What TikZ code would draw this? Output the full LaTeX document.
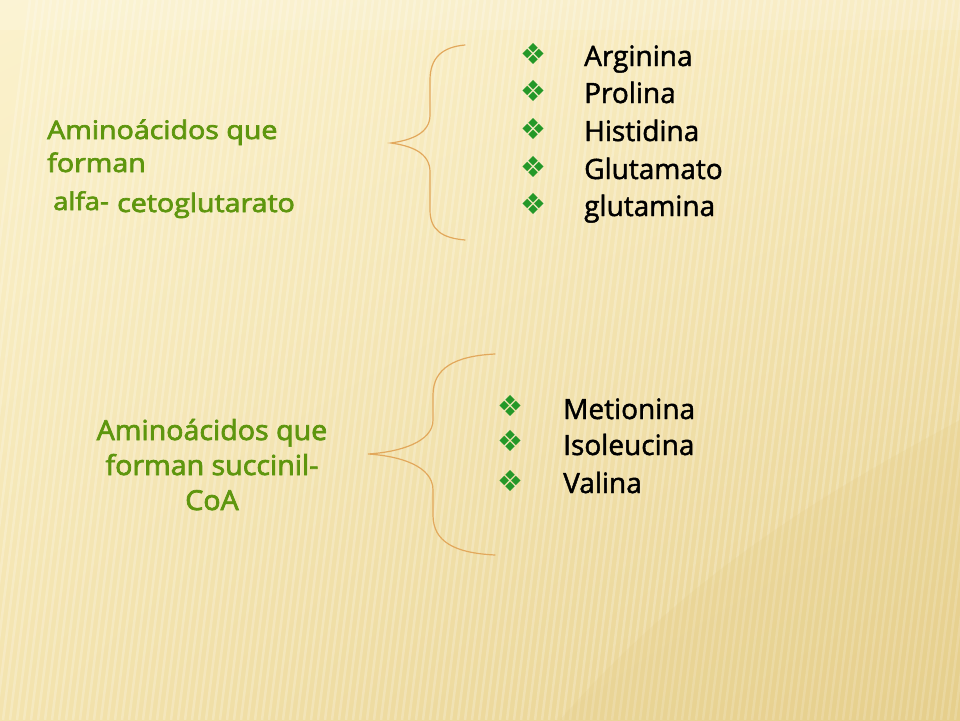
\documentclass[tikz,border=0pt]{standalone}
\usepackage{fontspec}
\usetikzlibrary{shadings}
\setmainfont{Open Sans}
\newfontfamily\medfont{Open Sans}[FakeBold=1.6]
\newfontfamily\grnfont{Open Sans}[FakeBold=2.6]
\newfontfamily\symfont{DejaVu Sans}
\definecolor{bgA}{RGB}{251,242,205}
\definecolor{bgB}{RGB}{247,233,186}
\definecolor{bgC}{RGB}{243,227,174}
\definecolor{bgD}{RGB}{230,207,140}
\definecolor{titlegreen}{RGB}{94,150,14}
\definecolor{bulletgreen}{RGB}{36,152,40}
\definecolor{bracecol}{RGB}{226,168,92}
\tikzset{
  item/.style={anchor=base west, inner sep=0pt, font=\medfont\fontsize{28}{30}\selectfont, text=black},
  bul/.style={inner sep=0pt, font=\symfont\fontsize{29}{29}\selectfont, text=bulletgreen},
  grnA/.style={anchor=base west, inner sep=0pt, font=\grnfont\fontsize{25.5}{28}\selectfont, text=titlegreen, xscale=1.12},
  grnB/.style={anchor=base, inner sep=0pt, font=\grnfont\fontsize{27.5}{30}\selectfont, text=titlegreen, xscale=1.04},
  brace/.style={draw=bracecol, line width=1.2pt, line cap=round}
}
\begin{document}
\begin{tikzpicture}[x=1pt,y=-1pt]
\useasboundingbox (0,0) rectangle (960,720);
% background
\shade[upper left=bgA, upper right=bgB, lower left=bgC, lower right=bgD] (0,0) rectangle (960,720);
\foreach \i in {0,...,150} {
  \draw[white, opacity=0.22, line width=2.5pt] (\i*7-60,720) -- (\i*7+30,0);
}
\fill[bgD, opacity=0.25] (560,720) .. controls (700,560) and (850,480) .. (960,420) -- (960,720) -- cycle;
\fill[white, opacity=0.15] (0,0) rectangle (960,30);

% block 1
\node[grnA] (g1a) at (47,139) {Aminoácidos que};
\node[grnA] (g1b) at (47,172) {forman};
\node[grnA, font=\grnfont\fontsize{24.5}{26}\selectfont] (g1c) at (53,210) {alfa-};
\node[grnA] (g1d) at (117,212) {cetoglutarato};

\draw[brace] (465,45) .. controls (442,47) and (430,58) .. (430,80) -- (430,115)
  .. controls (430,133) and (412,140) .. (391,143)
  .. controls (412,146) and (430,153) .. (430,172) -- (430,210)
  .. controls (430,230) and (442,238) .. (465,240);

\node[bul] (b1) at (533,54) {❖};
\node[bul] (b2) at (533,91) {❖};
\node[bul] (b3) at (533,129) {❖};
\node[bul] (b4) at (533,167) {❖};
\node[bul] (b5) at (533,204) {❖};
\node[item] (i1) at (584,66) {Arginina};
\node[item] (i2) at (584,103) {Prolina};
\node[item] (i3) at (584,141) {Histidina};
\node[item] (i4) at (584,179) {Glutamato};
\node[item] (i5) at (584,216) {glutamina};

% block 2
\node[grnB] (g2a) at (212,440) {Aminoácidos que};
\node[grnB] (g2b) at (212,475) {forman succinil-};
\node[grnB] (g2c) at (212,510) {CoA};

\draw[brace] (495,354) .. controls (455,356) and (433,368) .. (433,395) -- (433,420)
  .. controls (433,442) and (400,452) .. (368,454)
  .. controls (400,456) and (433,466) .. (433,490) -- (433,515)
  .. controls (433,542) and (455,553) .. (495,555);

\node[bul] (c1) at (510,406) {❖};
\node[bul] (c2) at (510,441) {❖};
\node[bul] (c3) at (510,481) {❖};
\node[item] (j1) at (563,419) {Metionina};
\node[item] (j2) at (563,455) {Isoleucina};
\node[item] (j3) at (563,493) {Valina};
\end{tikzpicture}
\end{document}
